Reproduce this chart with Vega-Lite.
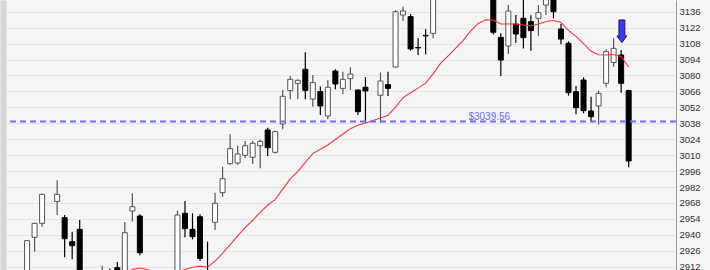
{
  "$schema": "https://vega.github.io/schema/vega-lite/v6.json",
  "autosize": {"type": "none"},
  "width": 670,
  "height": 270,
  "padding": {"left": 6, "right": 34, "top": 0, "bottom": 0},
  "background": "#f5f5f5",
  "config": {
    "view": {"stroke": null, "fill": "#f5f5f5"},
    "axis": {"labelFont": "Liberation Sans", "labelFontSize": 9.5, "labelColor": "#333333"}
  },
  "datasets": {
    "candles": [
      {"i": 0, "o": 2900, "h": 2935.5, "l": 2890, "c": 2934.9},
      {"i": 1, "o": 2937.8, "h": 2950.5, "l": 2925.2, "c": 2950.1},
      {"i": 2, "o": 2950.1, "h": 2976, "l": 2947.2, "c": 2975.6},
      {"i": 4, "o": 2969.4, "h": 2987.9, "l": 2957.4, "c": 2975.6},
      {"i": 5, "o": 2955.1, "h": 2957.4, "l": 2920.2, "c": 2936.6},
      {"i": 6, "o": 2934, "h": 2942.8, "l": 2918.5, "c": 2930.5},
      {"i": 7, "o": 2944.8, "h": 2953, "l": 2895, "c": 2905},
      {"i": 8, "o": 2903, "h": 2907, "l": 2885, "c": 2890},
      {"i": 9, "o": 2892, "h": 2905, "l": 2880, "c": 2900},
      {"i": 10, "o": 2898, "h": 2912.9, "l": 2890, "c": 2904},
      {"i": 11, "o": 2904, "h": 2910.5, "l": 2895, "c": 2900},
      {"i": 12, "o": 2911.2, "h": 2916.1, "l": 2895, "c": 2902},
      {"i": 13, "o": 2905, "h": 2951.3, "l": 2900, "c": 2941.9},
      {"i": 14, "o": 2961, "h": 2976.5, "l": 2951.6, "c": 2964.7},
      {"i": 15, "o": 2956.5, "h": 2958, "l": 2922, "c": 2924.3},
      {"i": 16, "o": 2905, "h": 2907, "l": 2880, "c": 2885},
      {"i": 17, "o": 2885, "h": 2895, "l": 2870, "c": 2890},
      {"i": 18, "o": 2890, "h": 2900, "l": 2875, "c": 2880},
      {"i": 19, "o": 2882, "h": 2898, "l": 2870, "c": 2895},
      {"i": 20, "o": 2905, "h": 2961.2, "l": 2890, "c": 2957.4},
      {"i": 21, "o": 2958.9, "h": 2969.7, "l": 2937.8, "c": 2945.4},
      {"i": 22, "o": 2944.8, "h": 2958.9, "l": 2936, "c": 2938.4},
      {"i": 23, "o": 2955.9, "h": 2958, "l": 2917, "c": 2919.3},
      {"i": 24, "o": 2906, "h": 2934, "l": 2895, "c": 2900},
      {"i": 25, "o": 2951, "h": 2977, "l": 2944.2, "c": 2967.7},
      {"i": 26, "o": 2977, "h": 2999.9, "l": 2973.5, "c": 2989.3},
      {"i": 27, "o": 3002.5, "h": 3028.6, "l": 3001.6, "c": 3015.7},
      {"i": 28, "o": 3003.1, "h": 3018.3, "l": 3001.6, "c": 3011},
      {"i": 29, "o": 3009.8, "h": 3022.4, "l": 3007.2, "c": 3018.3},
      {"i": 30, "o": 3008.1, "h": 3022.5, "l": 3002.2, "c": 3020.4},
      {"i": 31, "o": 3018.3, "h": 3023.5, "l": 2998.4, "c": 3022.1},
      {"i": 32, "o": 3032.1, "h": 3034.1, "l": 3009.3, "c": 3016.5},
      {"i": 33, "o": 3012.5, "h": 3031.5, "l": 3011.5, "c": 3030.6},
      {"i": 34, "o": 3037.4, "h": 3067.2, "l": 3032.7, "c": 3061.7},
      {"i": 35, "o": 3066.7, "h": 3079.5, "l": 3059, "c": 3076.6},
      {"i": 36, "o": 3073.1, "h": 3076.6, "l": 3059, "c": 3075.7},
      {"i": 37, "o": 3085.4, "h": 3100.3, "l": 3059, "c": 3066.9},
      {"i": 38, "o": 3059.3, "h": 3080.4, "l": 3052.6, "c": 3073.7},
      {"i": 39, "o": 3065.8, "h": 3070.2, "l": 3045.3, "c": 3053.2},
      {"i": 40, "o": 3044.4, "h": 3076, "l": 3041.5, "c": 3069.6},
      {"i": 41, "o": 3083.9, "h": 3085.4, "l": 3067.8, "c": 3072.5},
      {"i": 42, "o": 3068.7, "h": 3083.3, "l": 3063.4, "c": 3076.6},
      {"i": 43, "o": 3077.2, "h": 3087.2, "l": 3067.2, "c": 3081.3},
      {"i": 44, "o": 3067.2, "h": 3068, "l": 3045.3, "c": 3048.2},
      {"i": 45, "o": 3069.6, "h": 3078.4, "l": 3038.5, "c": 3066.4},
      {"i": 47, "o": 3062.6, "h": 3082.5, "l": 3038.5, "c": 3075.1},
      {"i": 48, "o": 3071.9, "h": 3083.3, "l": 3062, "c": 3068.7},
      {"i": 49, "o": 3087.4, "h": 3137.5, "l": 3087, "c": 3136},
      {"i": 50, "o": 3133.1, "h": 3140.4, "l": 3128.1, "c": 3136.6},
      {"i": 51, "o": 3131.7, "h": 3134, "l": 3101.8, "c": 3103.3},
      {"i": 52, "o": 3104.6, "h": 3112.6, "l": 3098, "c": 3104.2},
      {"i": 53, "o": 3115.2, "h": 3120.5, "l": 3098.6, "c": 3114.8},
      {"i": 54, "o": 3117, "h": 3155, "l": 3112.6, "c": 3150},
      {"i": 55, "o": 3150, "h": 3165, "l": 3148, "c": 3160},
      {"i": 56, "o": 3160, "h": 3170, "l": 3152, "c": 3165},
      {"i": 57, "o": 3165, "h": 3175, "l": 3158, "c": 3170},
      {"i": 58, "o": 3170, "h": 3180, "l": 3160, "c": 3168},
      {"i": 59, "o": 3168, "h": 3178, "l": 3155, "c": 3172},
      {"i": 60, "o": 3172, "h": 3180, "l": 3160, "c": 3165},
      {"i": 61, "o": 3165, "h": 3172, "l": 3150, "c": 3160},
      {"i": 62, "o": 3160, "h": 3165, "l": 3116, "c": 3117.9},
      {"i": 63, "o": 3113.5, "h": 3117, "l": 3079.5, "c": 3093.6},
      {"i": 64, "o": 3105.9, "h": 3141.9, "l": 3098.9, "c": 3136.6},
      {"i": 65, "o": 3125.2, "h": 3133.1, "l": 3108.8, "c": 3116.4},
      {"i": 66, "o": 3130.2, "h": 3150, "l": 3103.8, "c": 3113.2},
      {"i": 67, "o": 3127.3, "h": 3133, "l": 3101.8, "c": 3119.4},
      {"i": 68, "o": 3130.2, "h": 3141.9, "l": 3114.7, "c": 3135.2},
      {"i": 69, "o": 3141.9, "h": 3155, "l": 3133.1, "c": 3150},
      {"i": 70, "o": 3150, "h": 3155, "l": 3130.2, "c": 3136},
      {"i": 71, "o": 3120.8, "h": 3125.2, "l": 3107.4, "c": 3112},
      {"i": 72, "o": 3108.2, "h": 3110, "l": 3062.3, "c": 3064.9},
      {"i": 73, "o": 3065.8, "h": 3070.8, "l": 3045.9, "c": 3051.7},
      {"i": 74, "o": 3076, "h": 3078.4, "l": 3046.7, "c": 3049.1},
      {"i": 75, "o": 3048.8, "h": 3061.4, "l": 3039.4, "c": 3043.8},
      {"i": 76, "o": 3053.2, "h": 3066.7, "l": 3037, "c": 3064.3},
      {"i": 77, "o": 3073.1, "h": 3103, "l": 3069.6, "c": 3100.9},
      {"i": 78, "o": 3091.5, "h": 3112.6, "l": 3087.7, "c": 3103.8},
      {"i": 79, "o": 3098, "h": 3102.4, "l": 3064.9, "c": 3073.1},
      {"i": 80, "o": 3066.7, "h": 3067.5, "l": 2999.3, "c": 3004.9}
    ],
    "ma": [
      {"i": 13, "m": 2906}, {"i": 14, "m": 2909.5}, {"i": 15, "m": 2910.8}, {"i": 16, "m": 2909.5},
      {"i": 17, "m": 2907}, {"i": 18, "m": 2906}, {"i": 19, "m": 2906}, {"i": 20, "m": 2907.5},
      {"i": 21, "m": 2909.5}, {"i": 22, "m": 2911.5}, {"i": 23, "m": 2912.5}, {"i": 24, "m": 2911.5},
      {"i": 25, "m": 2916.9}, {"i": 26, "m": 2923.9}, {"i": 27, "m": 2931.1}, {"i": 28, "m": 2939},
      {"i": 29, "m": 2946.3}, {"i": 30, "m": 2952.8}, {"i": 31, "m": 2959.8}, {"i": 32, "m": 2966},
      {"i": 33, "m": 2971.1}, {"i": 34, "m": 2980.2}, {"i": 35, "m": 2989.1}, {"i": 36, "m": 2995.8},
      {"i": 37, "m": 3003.6}, {"i": 38, "m": 3011.4}, {"i": 39, "m": 3015.2}, {"i": 40, "m": 3018.9},
      {"i": 41, "m": 3023.8}, {"i": 42, "m": 3028.6}, {"i": 43, "m": 3033.3}, {"i": 44, "m": 3036.3},
      {"i": 45, "m": 3038.3}, {"i": 47, "m": 3042.7}, {"i": 48, "m": 3045.1}, {"i": 49, "m": 3052.1},
      {"i": 50, "m": 3060.4}, {"i": 51, "m": 3064.9}, {"i": 52, "m": 3068.9}, {"i": 53, "m": 3073.2},
      {"i": 54, "m": 3081.4}, {"i": 55, "m": 3090.8}, {"i": 56, "m": 3097.3}, {"i": 57, "m": 3104},
      {"i": 58, "m": 3110.8}, {"i": 59, "m": 3119.1}, {"i": 60, "m": 3125.7}, {"i": 61, "m": 3128.9},
      {"i": 62, "m": 3128.7}, {"i": 63, "m": 3125.2}, {"i": 64, "m": 3125.2}, {"i": 65, "m": 3125.2},
      {"i": 66, "m": 3124.3}, {"i": 67, "m": 3123.5}, {"i": 68, "m": 3125.2}, {"i": 69, "m": 3127.4},
      {"i": 70, "m": 3128.3}, {"i": 71, "m": 3126.5}, {"i": 72, "m": 3119.6}, {"i": 73, "m": 3114.4},
      {"i": 74, "m": 3107.9}, {"i": 75, "m": 3101.2}, {"i": 76, "m": 3098.2}, {"i": 77, "m": 3098},
      {"i": 78, "m": 3098.4}, {"i": 79, "m": 3096.7}, {"i": 80, "m": 3087.7}
    ],
    "label": [{"i": 61.46, "v": 3039.56, "t": "$3039.56"}],
    "arrow": [{"i": 79.1, "v": 3118.8}]
  },
  "resolve": {"axis": {"y": "independent"}},
  "layer": [
    {
      "data": {"name": "candles"},
      "mark": {"type": "rule", "strokeWidth": 1.2, "clip": true},
      "encoding": {
        "x": {"field": "i", "type": "quantitative", "scale": {"domain": [-2.135, 85.63], "nice": false, "zero": false},
              "axis": {"title": null, "orient": "bottom", "values": [1.2, 6.2, 11.2, 16.2, 21.2, 26.2, 31.2, 36.2, 41.2, 46.2, 51.2, 56.2, 61.2, 66.2, 71.2, 76.2, 81.2],
                       "labels": false, "ticks": false, "domain": false, "grid": true, "gridColor": "#e4e4e4", "gridWidth": 1}},
        "y": {"field": "l", "type": "quantitative", "scale": {"domain": [2909.1, 3146.3], "nice": false, "zero": false},
              "axis": {"title": null, "orient": "right", "format": "d", "values": [2912, 2926, 2940, 2954, 2968, 2982, 2996, 3010, 3024, 3038, 3052, 3066, 3080, 3094, 3108, 3122, 3136],
                       "ticks": false, "labelPadding": 3, "domain": true, "domainColor": "#9a9a9a", "domainWidth": 1,
                       "grid": true, "gridColor": "#e4e4e4", "gridWidth": 1, "labelOverlap": false, "labelFlush": false, "labelBound": false}},
        "y2": {"field": "h"},
        "color": {"condition": {"test": "datum.o > datum.c", "value": "#000000"}, "value": "#555555"}
      }
    },
    {
      "data": {"name": "candles"},
      "mark": {"type": "bar", "width": 5, "strokeWidth": 1, "clip": true},
      "encoding": {
        "x": {"field": "i", "type": "quantitative", "axis": null},
        "y": {"field": "o", "type": "quantitative",
              "axis": {"title": null, "orient": "left", "offset": 3, "labels": false, "ticks": false, "grid": false,
                       "domain": true, "domainColor": "#d6d6d6", "domainWidth": 6}},
        "y2": {"field": "c"},
        "fill": {"condition": {"test": "datum.o > datum.c", "value": "#000000"}, "value": "#ffffff"},
        "stroke": {"condition": {"test": "datum.o > datum.c", "value": "#000000"}, "value": "#555555"}
      }
    },
    {
      "data": {"name": "ma"},
      "mark": {"type": "line", "color": "#f23a3a", "strokeWidth": 1.1, "clip": true},
      "encoding": {
        "x": {"field": "i", "type": "quantitative", "axis": null},
        "y": {"field": "m", "type": "quantitative", "axis": null}
      }
    },
    {
      "data": {"values": [{}]},
      "mark": {"type": "rule", "color": "#6f6ff5", "strokeWidth": 1.8, "strokeDash": [6, 4]},
      "encoding": {"y": {"datum": 3039.56, "type": "quantitative", "axis": null}}
    },
    {
      "data": {"name": "label"},
      "mark": {"type": "text", "font": "Liberation Sans", "fontSize": 10, "color": "#6b6bf5", "align": "center", "baseline": "alphabetic", "dy": -1.5},
      "encoding": {
        "x": {"field": "i", "type": "quantitative", "axis": null},
        "y": {"field": "v", "type": "quantitative", "axis": null},
        "text": {"field": "t"}
      }
    },
    {
      "data": {"name": "arrow"},
      "mark": {"type": "point", "shape": "M-0.26,-1L0.26,-1L0.26,0.41L0.44,0.41L0,1L-0.44,0.41L-0.26,0.41Z", "size": 515, "filled": true, "fill": "#3a3af2", "stroke": "#1c1c66", "strokeWidth": 1, "opacity": 1},
      "encoding": {
        "x": {"field": "i", "type": "quantitative", "axis": null},
        "y": {"field": "v", "type": "quantitative", "axis": null}
      }
    }
  ]
}
